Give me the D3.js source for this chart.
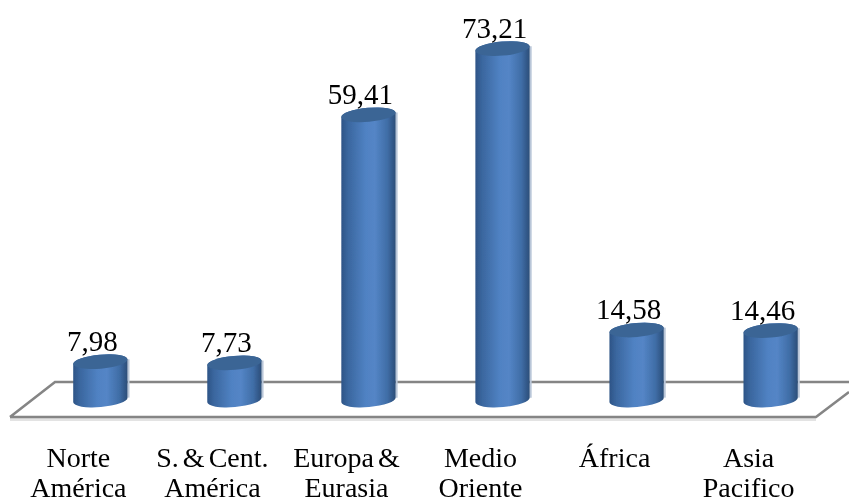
<!DOCTYPE html>
<html><head><meta charset="utf-8">
<script src="https://cdn.jsdelivr.net/npm/d3@7"></script>
<style>html,body{margin:0;padding:0;background:#fff}svg{display:block}</style>
</head><body><div id="c"></div>
<script>
const categories = [["Norte","América"],["S. & Cent.","América"],["Europa &","Eurasia"],["Medio","Oriente"],["África"],["Asia","Pacifico"]];
const values = [7.98,7.73,59.41,73.21,14.58,14.46];
const valueLabels = ["7,98","7,73","59,41","73,21","14,58","14,46"];

const W=849,H=499;
const svg=d3.select("#c").append("svg").attr("width",W).attr("height",H);
const x=d3.scaleBand().domain(d3.range(values.length)).range([33,838]).paddingInner(0.595).paddingOuter(0.3);
const y=d3.scaleLinear().domain([0,80]).range([400,16]);
const defs=svg.append("defs");
const g=defs.append("linearGradient").attr("id","body");
[[0,"#2d5486"],[0.12,"#3a669e"],[0.45,"#5082c3"],[0.62,"#5485c6"],[0.85,"#3f6da6"],[1,"#2b4d78"]]
 .forEach(s=>g.append("stop").attr("offset",s[0]).attr("stop-color",s[1]));
const soft=defs.append("filter").attr("id","soft").attr("x","-5%").attr("y","-5%").attr("width","110%").attr("height","110%");
soft.append("feGaussianBlur").attr("stdDeviation",0.45);
const softText=defs.append("filter").attr("id","softText").attr("x","-5%").attr("y","-5%").attr("width","110%").attr("height","110%");
softText.append("feGaussianBlur").attr("stdDeviation",0.35);

// floor
const floor=svg.append("g").attr("filter","url(#soft)");
floor.append("line").attr("x1",10).attr("x2",816).attr("y1",419.5).attr("y2",419.5).attr("stroke","#e3e3e3").attr("stroke-width",3);
floor.append("path").attr("d","M10,417L55,382L849,382M849,392L816,417L10,417").attr("fill","none").attr("stroke","#858585").attr("stroke-width",2.6);

const rot=-5, ry=7;
const bars=svg.append("g").selectAll("g").data(values).join("g").attr("filter","url(#soft)");
bars.each(function(v,i){
  const s=d3.select(this), w=x.bandwidth(), rx=w/2, cx=x(i)+w/2, dy=rx*Math.tan(-rot*Math.PI/180);
  const yt=y(v), yb=y(0);
  s.append("path").attr("d",`M${cx+rx+1},${yt-dy}L${cx+rx+1},${yb-dy}`).attr("stroke","#b9c6d8").attr("stroke-width",2).attr("fill","none");
  s.append("path").attr("fill","url(#body)")
   .attr("d",`M${cx-rx},${yt+dy}L${cx-rx},${yb+dy}A${rx},${ry} ${rot} 0 0 ${cx+rx},${yb-dy}L${cx+rx},${yt-dy}A${rx},${ry} ${rot} 0 0 ${cx-rx},${yt+dy}Z`);
  s.append("ellipse").attr("cx",cx).attr("cy",yt).attr("rx",rx).attr("ry",ry).attr("transform",`rotate(${rot} ${cx} ${yt})`).attr("fill","#3b6595");
});

const font="'Liberation Serif',serif";
svg.append("g").attr("filter","url(#softText)").selectAll("text").data(valueLabels).join("text")
  .attr("x",(d,i)=>x(i)+x.bandwidth()/2-8).attr("y",(d,i)=>y(values[i])-11)
  .attr("text-anchor","middle").attr("font-family",font).attr("font-size",29).attr("fill","#000").text(d=>d);
const labs=svg.append("g").attr("filter","url(#softText)").selectAll("text").data(categories).join("text")
  .attr("text-anchor","middle").attr("font-family",font).attr("font-size",28).attr("word-spacing",-3).attr("fill","#000");
labs.each(function(d,i){
  d3.select(this).selectAll("tspan").data(d).join("tspan")
   .attr("x",x(i)+x.bandwidth()/2-22).attr("y",(t,j)=>467+j*30).text(t=>t);
});
</script></body></html>
